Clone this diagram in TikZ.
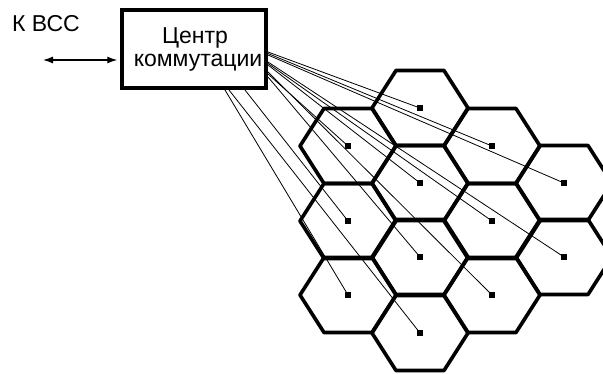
\documentclass[tikz,border=0pt]{standalone}
\usepackage{fontspec}
\setmainfont{Liberation Sans}
\usetikzlibrary{arrows.meta}
\begin{document}
\begin{tikzpicture}[x=1pt,y=-1pt,
  hex/.style={line width=3.6pt, line join=round},
  cell/.style={rectangle, fill=black, minimum size=6pt, inner sep=0pt},
  feed/.style={line width=0.8pt},
  lbl/.style={font=\fontsize{23}{22}\selectfont, inner sep=0pt},
  frame/.style={draw, line width=4.5pt, minimum width=144pt, minimum height=78pt, inner sep=0pt},
  link/.style={{Latex[length=10pt,width=7pt]}-{Latex[length=10pt,width=7pt]}, line width=1.3pt}
]
\useasboundingbox (0,0) rectangle (603,374);
\clip (0,0) rectangle (603,374);
% hexagonal cells
\foreach \cx/\cy in {348/146,348/221,348/295,420/108,420/183,420/257,420/333,492/146,492/221,492/295,564/183,564/257}{
  \draw[hex] ({\cx-48},\cy) -- ({\cx-24},{\cy-37.5}) -- ({\cx+24},{\cy-37.5}) -- ({\cx+48},\cy) -- ({\cx+24},{\cy+37.5}) -- ({\cx-24},{\cy+37.5}) -- cycle;
}
% switching centre
\node[frame] (box) at (194,49) {};
\node[lbl, anchor=base] (t1) at (195,44) {Центр};
\node[lbl, anchor=base] (t2) at (198,67) {коммутации};
\node[lbl, anchor=base west] (vccl) at (12,32) {К ВСС};
\coordinate (vcc) at (43,60);
\draw[link, shorten >=2.5pt] (vcc) -- (vcc -| box.west);
% base stations
\node[cell] (d1) at (420,108) {};
\node[cell] (d2) at (492,146) {};
\node[cell] (d3) at (564,183) {};
\node[cell] (d4) at (564,257) {};
\node[cell] (d5) at (492,221) {};
\node[cell] (d6) at (420,183) {};
\node[cell] (d7) at (492,295) {};
\node[cell] (d8) at (348,146) {};
\node[cell] (d9) at (420,257) {};
\node[cell] (d10) at (348,221) {};
\node[cell] (d11) at (420,333) {};
\node[cell] (d12) at (348,295) {};
% origins on the box border
\coordinate (o1) at (268,52);
\coordinate (o2) at (268,53.5);
\coordinate (o3) at (268,55);
\coordinate (o4) at (268,62);
\coordinate (o5) at (268,63.5);
\coordinate (o6) at (268,65);
\coordinate (o7) at (268,72);
\coordinate (o8) at (268,74);
\coordinate (o9) at (268,77);
\coordinate (o10) at (245,90);
\coordinate (o11) at (229,90);
\coordinate (o12) at (225,90);
\foreach \i in {1,...,12}{
  \draw[feed] (o\i) -- (d\i.center);
}
\end{tikzpicture}
\end{document}
